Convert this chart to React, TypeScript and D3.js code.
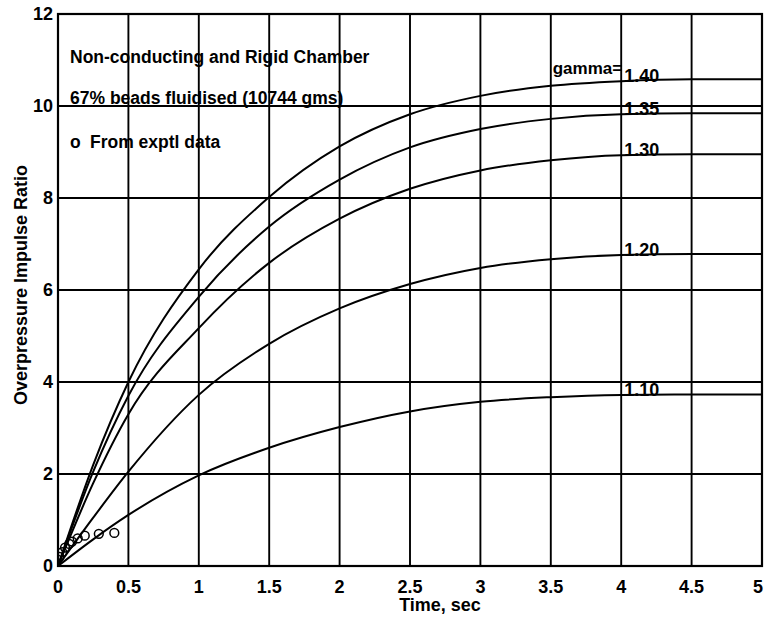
import React from "react";
import * as d3 from "d3";

// ---- data ----
const timeSec = [0, 0.25, 0.5, 1, 1.5, 2, 2.5, 3, 3.5, 4, 4.5, 5];
const gamma140 = [0, 2.2, 4.0, 6.45, 8.02, 9.12, 9.82, 10.22, 10.44, 10.54, 10.58, 10.58];
const gamma135 = [0, 2.05, 3.7, 5.85, 7.38, 8.4, 9.1, 9.5, 9.72, 9.82, 9.84, 9.84];
const gamma130 = [0, 1.8, 3.3, 5.17, 6.59, 7.55, 8.2, 8.6, 8.82, 8.93, 8.95, 8.95];
const gamma120 = [0, 1.05, 2.05, 3.72, 4.83, 5.6, 6.13, 6.48, 6.67, 6.76, 6.78, 6.78];
const gamma110 = [0, 0.58, 1.11, 1.97, 2.57, 3.02, 3.36, 3.57, 3.67, 3.72, 3.73, 3.73];
const seriesValues = [gamma140, gamma135, gamma130, gamma120, gamma110];
const gammaLabels = ["1.40", "1.35", "1.30", "1.20", "1.10"];

const exptTime = [0.01, 0.03, 0.05, 0.08, 0.1, 0.14, 0.19, 0.29, 0.4];
const exptRatio = [0.2, 0.3, 0.4, 0.48, 0.53, 0.6, 0.66, 0.7, 0.72];

const xTicks = [0, 0.5, 1, 1.5, 2, 2.5, 3, 3.5, 4, 4.5, 5];
const yTicks = [0, 2, 4, 6, 8, 10, 12];
const labelTime = 4;

const W = 764;
const H = 623;
const M = { left: 58, right: 2, top: 14, bottom: 57 };
const FONT = "'Liberation Sans', Arial, sans-serif";

export default function App() {
  const x = d3.scaleLinear().domain([0, 5]).range([M.left, W - M.right]);
  const y = d3.scaleLinear().domain([0, 12]).range([H - M.bottom, M.top]);
  const line = d3
    .line<number>()
    .x((_, i) => x(timeSec[i]))
    .y((d) => y(d))
    .curve(d3.curveMonotoneX);

  const idx = timeSec.indexOf(labelTime);
  const lastTick = xTicks[xTicks.length - 1];

  return (
    <svg
      width={W}
      height={H}
      style={{ position: "absolute", left: 0, top: 0, background: "#fff", fontFamily: FONT }}
    >
      <defs>
        <clipPath id="plot">
          <rect x={M.left} y={M.top} width={W - M.left - M.right} height={H - M.top - M.bottom} />
        </clipPath>
      </defs>
      {/* grid */}
      {xTicks.map((t) => (
        <line key={"gx" + t} x1={x(t)} x2={x(t)} y1={y(0)} y2={y(12)} stroke="#000" strokeWidth={1.9} />
      ))}
      {yTicks.map((t) => (
        <line key={"gy" + t} x1={x(0)} x2={x(5)} y1={y(t)} y2={y(t)} stroke="#000" strokeWidth={1.9} />
      ))}
      <rect
        x={x(0)}
        y={y(12)}
        width={x(5) - x(0)}
        height={y(0) - y(12)}
        fill="none"
        stroke="#000"
        strokeWidth={2.2}
      />
      {/* curves */}
      <g clipPath="url(#plot)">
        {seriesValues.map((s, i) => (
          <path key={"c" + i} d={line(s) || ""} fill="none" stroke="#000" strokeWidth={2} />
        ))}
        {exptTime.map((t, i) => (
          <circle key={"e" + i} cx={x(t)} cy={y(exptRatio[i])} r={4.4} fill="none" stroke="#000" strokeWidth={1.5} />
        ))}
      </g>
      {/* curve labels */}
      {seriesValues.map((s, i) => (
        <text key={"l" + i} x={x(labelTime) + 3} y={y(s[idx]) + 1} fontSize={18} fontWeight="bold" fill="#000">
          {gammaLabels[i]}
        </text>
      ))}
      <text x={x(labelTime) + 1} y={y(gamma140[idx]) - 7} fontSize={17} fontWeight="bold" textAnchor="end">
        gamma=
      </text>
      {/* annotations */}
      <text x={70} y={63} fontSize={17.5} fontWeight="bold">Non-conducting and Rigid Chamber</text>
      <text x={70} y={104} fontSize={17.5} fontWeight="bold">67% beads fluidised (10744 gms)</text>
      <text x={70} y={148} fontSize={17.5} fontWeight="bold">o</text>
      <text x={90} y={148} fontSize={17.5} fontWeight="bold">From exptl data</text>
      {/* tick labels */}
      {xTicks.map((t) => (
        <text
          key={"tx" + t}
          x={t === lastTick ? W - 1 : x(t)}
          y={593}
          fontSize={18}
          fontWeight="bold"
          textAnchor={t === lastTick ? "end" : "middle"}
        >
          {String(t)}
        </text>
      ))}
      {yTicks.map((t) => (
        <text key={"ty" + t} x={x(0) - 5} y={y(t)} dy="0.36em" fontSize={18} fontWeight="bold" textAnchor="end">
          {String(t)}
        </text>
      ))}
      {/* axis titles */}
      <text x={(x(0) + x(5)) / 2 + 30} y={611} fontSize={18} fontWeight="bold" textAnchor="middle">
        Time, sec
      </text>
      <text
        transform={`translate(27, ${285}) rotate(-90)`}
        fontSize={18}
        fontWeight="bold"
        textAnchor="middle"
      >
        Overpressure Impulse Ratio
      </text>
    </svg>
  );
}
